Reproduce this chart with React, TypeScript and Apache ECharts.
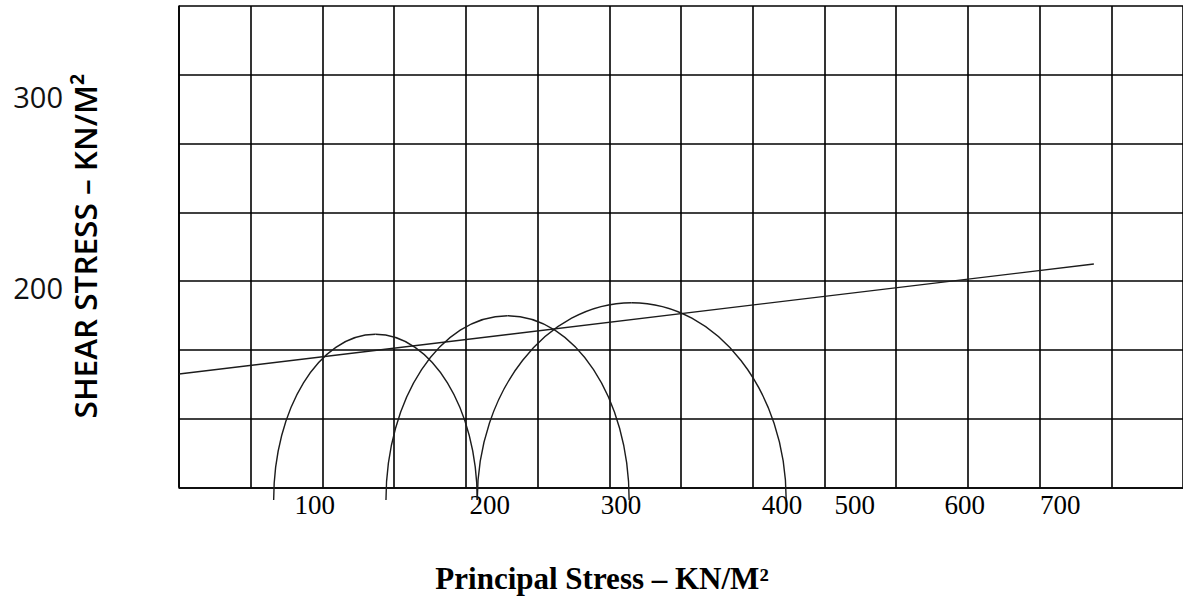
import { useEffect, useRef } from "react";
import * as echarts from "echarts";

// Axis ranges in grid cells (the paper grid: 14 columns x 7 rows)
const xCells = 14;
const yCells = 7;

// Tick labels as printed on the chart, and where they sit along each axis (in grid cells)
const xTickLabels = ["100", "200", "300", "400", "500", "600", "700"];
const xTickValues = [1.894, 4.332, 6.163, 8.407, 9.422, 10.957, 12.29];
const yTickLabels = ["300", "200"];
const yTickValues = [5.691, 2.906];

// Failure envelope (straight line), in grid cells
const envelope: number[][] = [
  [0, 1.648],
  [12.757, 3.248],
];

// Mohr circles, in grid cells
const circleLeft = [1.32, 2.886, 4.159]; // left foot (sigma3)
const circleRight = [4.159, 6.277, 8.467]; // right foot (sigma1)
const circleTop = [2.225, 2.496, 2.685]; // peak height
const circleBase = [-0.185, -0.185, -0.185]; // level where the arcs end

const xTitle = "Principal Stress \u2013 KN/M\u00B2";
const yTitle = "SHEAR STRESS \u2013 KN/M\u00B2";

function nearestLabel(v: number, values: number[], labels: string[]) {
  let best = 0;
  for (let i = 1; i < values.length; i++) {
    if (Math.abs(values[i] - v) < Math.abs(values[best] - v)) best = i;
  }
  return labels[best];
}

const K = 0.5523; // cubic Bezier constant for a quarter ellipse

export default function App() {
  const ref = useRef<HTMLDivElement>(null);

  useEffect(() => {
    if (!ref.current) return;
    const chart = echarts.init(ref.current, null, { renderer: "svg" });
    const gridLine = { show: true, lineStyle: { color: "#000", width: 1.6 } };
    const curveStroke = "#1c1c1c";
    const curveWidth = 1.4;

    const circles = circleLeft.map((l, i) => [l, circleRight[i], circleTop[i], circleBase[i]]);

    chart.setOption({
      animation: false,
      backgroundColor: "#fff",
      grid: { left: 179, top: 6, width: 1007, height: 481.3 },
      xAxis: [
        {
          type: "value",
          min: 0,
          max: xCells,
          interval: 1,
          axisLine: { show: true, lineStyle: { color: "#000", width: 1.6 } },
          axisTick: { show: false },
          axisLabel: { show: false },
          splitLine: gridLine,
        },
        {
          type: "value",
          min: 0,
          max: xCells,
          position: "bottom",
          axisLine: { show: false },
          axisTick: { show: false },
          splitLine: { show: false },
          axisLabel: {
            show: true,
            customValues: xTickValues,
            formatter: (v: number) => nearestLabel(v, xTickValues, xTickLabels),
            fontFamily: "Liberation Serif",
            fontSize: 27,
            color: "#000",
            margin: 4,
          },
        },
      ],
      yAxis: [
        {
          type: "value",
          min: 0,
          max: yCells,
          interval: 1,
          axisLine: { show: true, lineStyle: { color: "#000", width: 1.6 } },
          axisTick: { show: false },
          axisLabel: { show: false },
          splitLine: gridLine,
        },
        {
          type: "value",
          min: 0,
          max: yCells,
          position: "left",
          axisLine: { show: false },
          axisTick: { show: false },
          splitLine: { show: false },
          axisLabel: {
            show: true,
            customValues: yTickValues,
            formatter: (v: number) => nearestLabel(v, yTickValues, yTickLabels),
            fontFamily: "Open Sans",
            fontSize: 29,
            color: "#111",
            margin: 116,
          },
        },
      ],
      series: [
        {
          type: "line",
          name: "envelope",
          data: envelope,
          showSymbol: false,
          symbol: "none",
          clip: false,
          silent: true,
          lineStyle: { color: curveStroke, width: curveWidth },
        },
        {
          type: "custom",
          name: "mohr circles",
          data: circles,
          encode: { x: [0, 1], y: [2, 3] },
          clip: false,
          silent: true,
          renderItem: (params: any, api: any) => {
            const l = api.value(0);
            const r = api.value(1);
            const t = api.value(2);
            const b = api.value(3);
            const pL = api.coord([l, b]);
            const pR = api.coord([r, b]);
            const pT = api.coord([(l + r) / 2, t]);
            const rx = (pR[0] - pL[0]) / 2;
            const ry = pL[1] - pT[1];
            const style = { stroke: curveStroke, lineWidth: curveWidth, fill: null };
            return {
              type: "group",
              children: [
                {
                  type: "bezierCurve",
                  shape: {
                    x1: pL[0],
                    y1: pL[1],
                    cpx1: pL[0],
                    cpy1: pL[1] - K * ry,
                    cpx2: pT[0] - K * rx,
                    cpy2: pT[1],
                    x2: pT[0],
                    y2: pT[1],
                  },
                  style,
                },
                {
                  type: "bezierCurve",
                  shape: {
                    x1: pT[0],
                    y1: pT[1],
                    cpx1: pT[0] + K * rx,
                    cpy1: pT[1],
                    cpx2: pR[0],
                    cpy2: pR[1] - K * ry,
                    x2: pR[0],
                    y2: pR[1],
                  },
                  style,
                },
              ],
            };
          },
        },
      ],
      graphic: [
        {
          type: "text",
          x: 602,
          y: 578,
          style: {
            text: xTitle,
            fontFamily: "Liberation Serif",
            fontWeight: "bold",
            fontSize: 31,
            fill: "#000",
            align: "center",
            verticalAlign: "middle",
          },
        },
        {
          type: "text",
          x: 84,
          y: 246,
          rotation: Math.PI / 2,
          style: {
            text: yTitle,
            fontFamily: "Open Sans",
            fontWeight: 600,
            fontSize: 31.5,
            fill: "#000",
            align: "center",
            verticalAlign: "middle",
          },
        },
      ],
    });
    return () => chart.dispose();
  }, []);

  return (
    <div
      ref={ref}
      style={{ position: "fixed", left: 0, top: 0, width: 1183, height: 598, background: "#fff" }}
    />
  );
}
